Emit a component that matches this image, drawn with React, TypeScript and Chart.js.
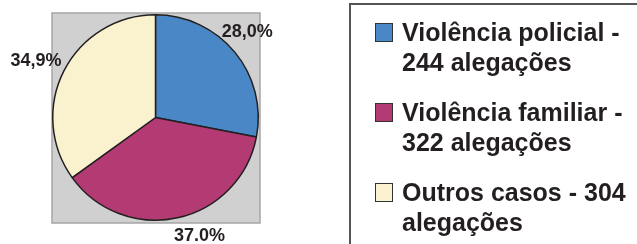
import React, { useEffect, useRef } from "react";
import { Chart, registerables } from "chart.js";

Chart.register(...registerables);

const categories = ["Violência policial", "Violência familiar", "Outros casos"];
const allegations = [244, 322, 304];
const percentLabels = ["28,0%", "37.0%", "34,9%"];
const sliceColors = ["#4a87c6", "#b33a73", "#faf1cf"];
const unitLabel = "alegações";

// label placement tweaks (pixels) relative to a point beyond each slice's mid-angle
const labelNudges = [
  { dx: -5, dy: -6 },
  { dx: 17, dy: -4 },
  { dx: -8, dy: 1 },
];

const FONT = "'Liberation Sans', Arial, Helvetica, sans-serif";
const TEXT = "#231f20";

const bgBoxPlugin = {
  id: "bgBox",
  beforeDraw(chart: any) {
    const { ctx, chartArea } = chart;
    ctx.save();
    const x = chartArea.left;
    const y = chartArea.top - 1;
    const w = chartArea.right - chartArea.left + 1;
    const h = chartArea.bottom - chartArea.top + 3;
    ctx.fillStyle = "#d0d0d0";
    ctx.fillRect(x, y, w, h);
    ctx.strokeStyle = "#a6a6a6";
    ctx.lineWidth = 1.5;
    ctx.strokeRect(x, y, w, h);
    ctx.restore();
  },
};

const pctLabelPlugin = {
  id: "pctLabels",
  afterDraw(chart: any) {
    const { ctx } = chart;
    const meta = chart.getDatasetMeta(0);
    ctx.save();
    ctx.font = `bold 18px ${FONT}`;
    ctx.fillStyle = TEXT;
    ctx.textAlign = "center";
    ctx.textBaseline = "middle";
    meta.data.forEach((arc: any, i: number) => {
      const { x, y, startAngle, endAngle, outerRadius } = arc.getProps(
        ["x", "y", "startAngle", "endAngle", "outerRadius"],
        true
      );
      const mid = (startAngle + endAngle) / 2;
      const d = outerRadius * 1.22;
      const n = labelNudges[i] || { dx: 0, dy: 0 };
      ctx.fillText(percentLabels[i], x + Math.cos(mid) * d + n.dx, y + Math.sin(mid) * d + n.dy);
    });
    ctx.restore();
  },
};

export default function App() {
  const canvasRef = useRef<HTMLCanvasElement | null>(null);

  useEffect(() => {
    if (!canvasRef.current) return;
    const chart = new Chart(canvasRef.current, {
      type: "pie",
      data: {
        labels: categories,
        datasets: [
          {
            data: allegations,
            backgroundColor: sliceColors,
            borderColor: "#231f20",
            borderWidth: 1.5,
          },
        ],
      },
      options: {
        responsive: false,
        animation: false,
        devicePixelRatio: 1,
        layout: { padding: { left: 52, top: 14, right: 378, bottom: 23 } },
        plugins: {
          legend: { display: false },
          tooltip: { enabled: false },
        },
      },
      plugins: [bgBoxPlugin, pctLabelPlugin],
    });
    return () => chart.destroy();
  }, []);

  return (
    <div style={{ position: "absolute", left: 0, top: 0, width: 637, height: 244, overflow: "hidden", background: "#fff" }}>
      <canvas ref={canvasRef} width={637} height={244} style={{ position: "absolute", left: 0, top: 0 }} />
      <div
        style={{
          position: "absolute",
          left: 349,
          top: 3,
          width: 400,
          height: 400,
          border: "2px solid #555",
          boxSizing: "border-box",
        }}
      />
      {categories.map((c, i) => (
        <React.Fragment key={c}>
          <div
            style={{
              position: "absolute",
              left: 375,
              top: 23 + i * 80,
              width: 18,
              height: 19,
              background: sliceColors[i],
              border: "1.5px solid #333",
              boxSizing: "border-box",
            }}
          />
          <div
            style={{
              position: "absolute",
              left: 402,
              top: 18.3 + i * 80,
              width: 232,
              font: `bold 25px ${FONT}`,
              lineHeight: "29.5px",
              color: TEXT,
            }}
          >
            {`${c} - ${allegations[i]} ${unitLabel}`}
          </div>
        </React.Fragment>
      ))}
    </div>
  );
}
